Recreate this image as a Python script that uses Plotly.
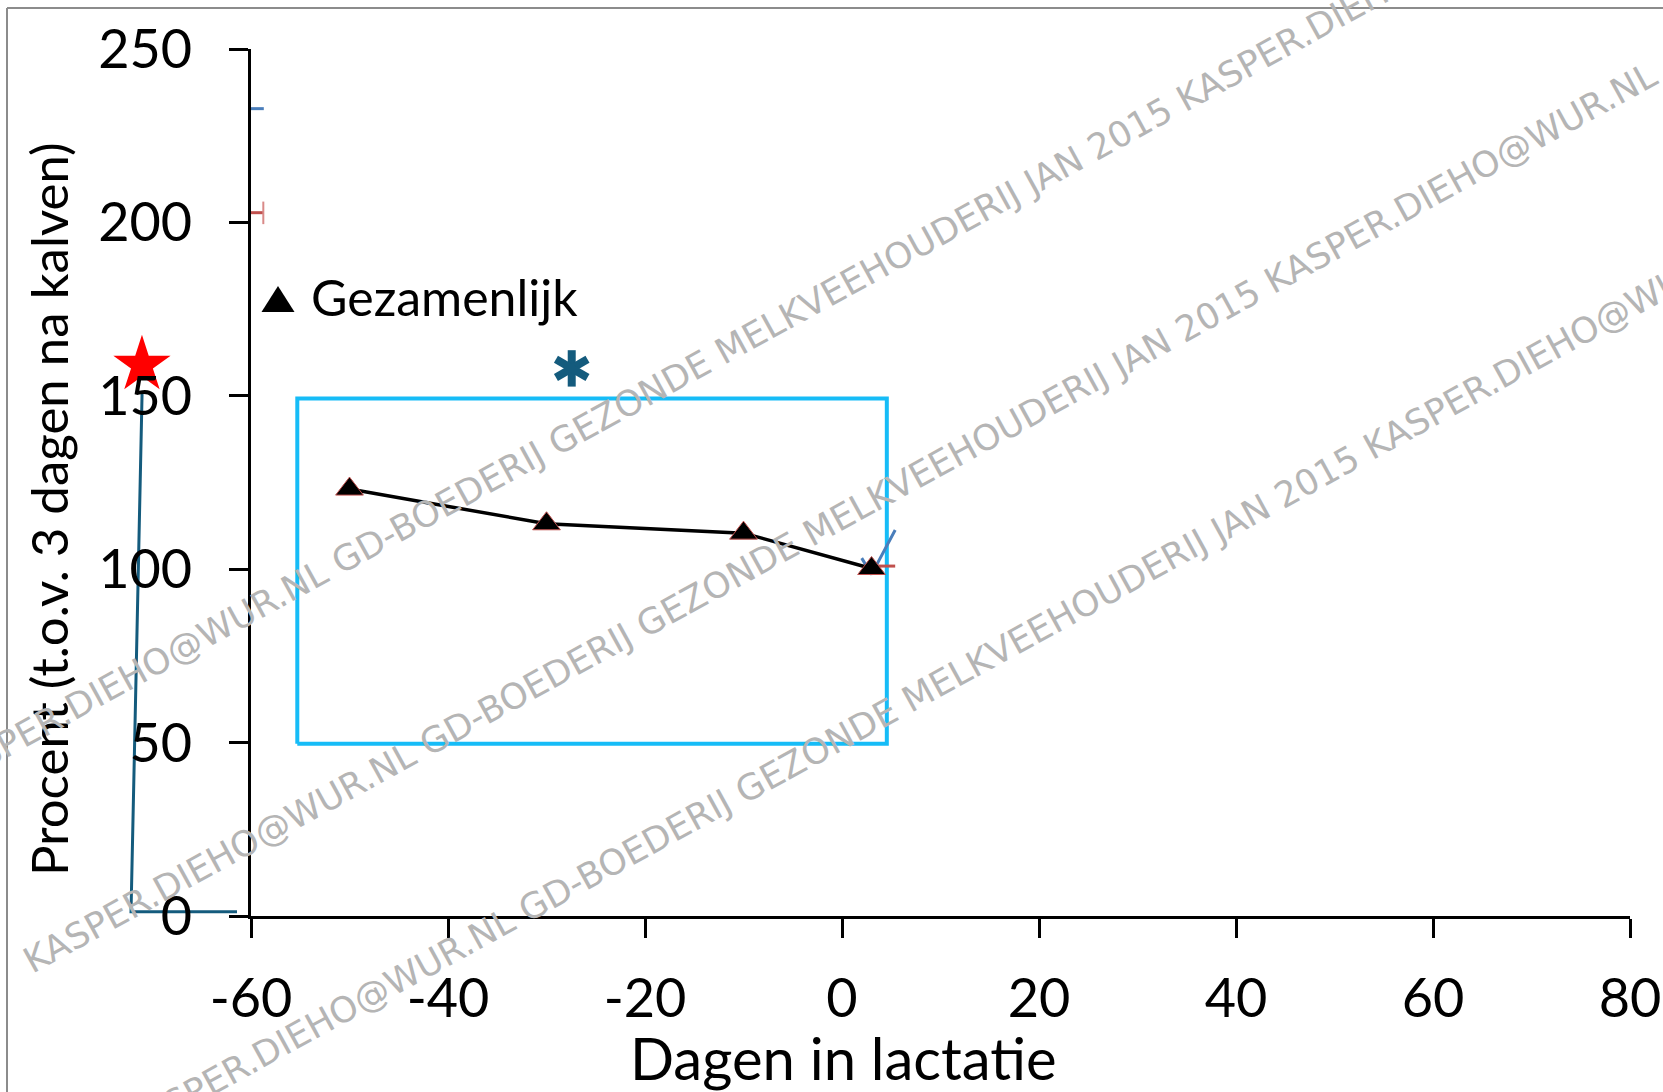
import plotly.graph_objects as go

# ---------------- data ----------------
days = [-50, -30, -10, 3]
gezamenlijk = [123.1, 113.1, 110.4, 100.2]

blauw_x = [2.0, 3.0, 5.4]
blauw_y = [103.2, 98.5, 111.3]
rood_x = [3.0, 5.4]
rood_y = [100.9, 100.9]

blauw_top_x = [-60, -58.7]
blauw_top_y = [232.8, 232.8]
rood_top_x = [-60, -58.75]
rood_top_y = [202.8, 202.8]
rood_cap_x = [-58.75, -58.75]
rood_cap_y = [206.0, 199.5]

kader_x = [-55.3, 4.55, 4.55, -55.3, -55.3]
kader_y = [49.7, 49.7, 149.2, 149.2, 49.7]

ster_x = [-71.07]
ster_y = [158.9]
asterisk_x = [-27.44, -27.44, -27.44]
asterisk_y = [157.9, 157.9, 157.9]
asterisk_angle = [0, 60, 120]
lijn_x = [-71.06, -72.18, -61.42]
lijn_y = [150.5, 1.2, 1.2]

x_ticks = [-60, -40, -20, 0, 20, 40, 60, 80]
x_ticktext = ["-60", "-40", "-20", "0", "20", "40", "60", "80"]
y_ticks = [0, 50, 100, 150, 200, 250]
y_ticktext = ["0", "50", "100", "150", "200", "250"]

x_title = "Dagen in lactatie"
y_title = "Procent (t.o.v. 3 dagen na kalven)"
legend_name = "Gezamenlijk"
watermark = "KASPER.DIEHO@WUR.NL GD-BOEDERIJ GEZONDE MELKVEEHOUDERIJ JAN 2015 KASPER.DIEHO@WUR.NL"

# ---------------- layout geometry ----------------
W, H = 1663, 1092
XL_PX, XR_PX = 251, 1630      # x=-60 and x=80
YB_PX, YT_PX = 916, 49        # y=0 and y=250
XMIN, XMAX = -60, 80
YMIN, YMAX = 0, 250
xs = (XMAX - XMIN) / (XR_PX - XL_PX)
ys = (YMAX - YMIN) / (YB_PX - YT_PX)
wide_xrange = [XMIN - XL_PX * xs, XMIN + (W - XL_PX) * xs]
wide_yrange = [YMIN - (H - YB_PX) * ys, YMAX + YT_PX * ys]

FONT = "Lato"
TEAL = "#145B7D"

fig = go.Figure()

# wide (invisible) subplot: elements outside the plot area
fig.add_trace(go.Scatter(x=lijn_x, y=lijn_y, mode="lines",
                         line=dict(color=TEAL, width=3), showlegend=False,
                         xaxis="x", yaxis="y"))
fig.add_trace(go.Scatter(x=ster_x, y=ster_y, mode="markers",
                         marker=dict(symbol="star", size=43, color="#FF0000",
                                     line=dict(width=0)),
                         showlegend=False, xaxis="x", yaxis="y"))

# main subplot
fig.add_trace(go.Scatter(x=kader_x, y=kader_y, mode="lines",
                         line=dict(color="#16BCF7", width=4), showlegend=False,
                         xaxis="x2", yaxis="y2"))
fig.add_trace(go.Scatter(x=blauw_top_x, y=blauw_top_y, mode="lines",
                         line=dict(color="#4A7EBB", width=3), showlegend=False,
                         xaxis="x2", yaxis="y2"))
fig.add_trace(go.Scatter(x=rood_top_x, y=rood_top_y, mode="lines",
                         line=dict(color="#C0504D", width=3), showlegend=False,
                         xaxis="x2", yaxis="y2"))
fig.add_trace(go.Scatter(x=rood_cap_x, y=rood_cap_y, mode="lines",
                         line=dict(color="#D98A88", width=2), showlegend=False,
                         xaxis="x2", yaxis="y2"))
fig.add_trace(go.Scatter(x=blauw_x, y=blauw_y, mode="lines",
                         line=dict(color="#4A7EBB", width=3), showlegend=False,
                         xaxis="x2", yaxis="y2"))
fig.add_trace(go.Scatter(x=rood_x, y=rood_y, mode="lines",
                         line=dict(color="#C0504D", width=3), showlegend=False,
                         xaxis="x2", yaxis="y2"))
fig.add_trace(go.Scatter(x=days, y=gezamenlijk, mode="lines+markers",
                         name=legend_name,
                         line=dict(color="black", width=3.5),
                         marker=dict(symbol="triangle-up", size=24, color="black",
                                     line=dict(color="#C0504D", width=1)),
                         showlegend=False, xaxis="x2", yaxis="y2"))
fig.add_trace(go.Scatter(x=asterisk_x, y=asterisk_y, mode="markers",
                         marker=dict(symbol="line-ns-open", size=26,
                                     angle=asterisk_angle, color=TEAL,
                                     line=dict(color=TEAL, width=8)),
                         showlegend=False, xaxis="x2", yaxis="y2"))

axis_common = dict(showgrid=False, zeroline=False, showline=True, automargin=False,
                   linecolor="black", linewidth=3, ticks="outside",
                   ticklen=19, tickwidth=3, tickcolor="black",
                   tickfont=dict(family=FONT, size=54, color="black"))

fig.update_layout(
    width=W, height=H,
    margin=dict(l=0, r=0, t=0, b=0, pad=0, autoexpand=False),
    paper_bgcolor="white",
    plot_bgcolor="rgba(0,0,0,0)",
    showlegend=False,
    xaxis=dict(domain=[0, 1], range=wide_xrange, visible=False, anchor="y",
               automargin=False),
    yaxis=dict(domain=[0, 1], range=wide_yrange, visible=False, anchor="x",
               automargin=False),
    xaxis2=dict(domain=[XL_PX / W, XR_PX / W], range=[XMIN, XMAX], anchor="y2",
                tickvals=x_ticks, ticktext=x_ticktext, ticklabelstandoff=14,
                **axis_common),
    yaxis2=dict(domain=[1 - YB_PX / H, 1 - YT_PX / H], range=[YMIN, YMAX], anchor="x2",
                tickvals=y_ticks, ticktext=y_ticktext, ticklabelstandoff=26,
                **axis_common),
)

annotations = [
    dict(text=x_title, x=843 / W, y=1 - 1057 / H, xref="paper", yref="paper",
         showarrow=False, xanchor="center", yanchor="middle",
         font=dict(family=FONT, size=58, color="black")),
    dict(text=y_title, x=48 / W, y=1 - 509 / H, xref="paper", yref="paper",
         showarrow=False, xanchor="center", yanchor="middle", textangle=-90,
         font=dict(family=FONT, size=51, color="black")),
    dict(text=legend_name,
         x=309 / W, y=1 - 297 / H, xref="paper", yref="paper",
         showarrow=False, xanchor="left", yanchor="middle",
         font=dict(family=FONT, size=50, color="black")),
]

# watermark rows (centres in pixels)
wm_centres = [(752, 335), (840, 517), (939, 683)]
for cx, cy in wm_centres:
    annotations.append(dict(text=watermark, x=cx / W, y=1 - cy / H,
                            xref="paper", yref="paper", showarrow=False,
                            xanchor="center", yanchor="middle", textangle=-28.7,
                            font=dict(family="DejaVu Sans", size=35.5,
                                      color="#B5B5B5")))
fig.update_layout(annotations=annotations)

# legend symbol (black triangle)
tri_cx, tri_top, tri_bot, tri_hw = 278, 286, 312, 16.5
fig.add_shape(type="path", xref="paper", yref="paper",
              path=(f"M {(tri_cx - tri_hw) / W},{1 - tri_bot / H} "
                    f"L {(tri_cx + tri_hw) / W},{1 - tri_bot / H} "
                    f"L {tri_cx / W},{1 - tri_top / H} Z"),
              fillcolor="black", line=dict(width=0))

# outer grey frame (top and left edges)
fig.add_shape(type="line", xref="paper", yref="paper",
              x0=7 / W, x1=7 / W, y0=0, y1=1 - 8 / H,
              line=dict(color="#8C8C8C", width=2))
fig.add_shape(type="line", xref="paper", yref="paper",
              x0=7 / W, x1=1, y0=1 - 8 / H, y1=1 - 8 / H,
              line=dict(color="#8C8C8C", width=2))

fig.write_html("out.html")
